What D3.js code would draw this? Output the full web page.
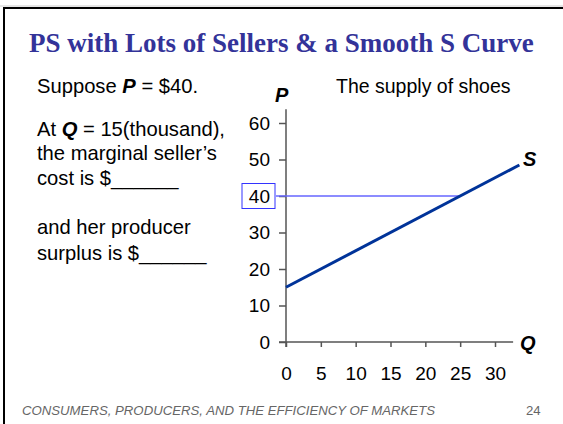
<!DOCTYPE html>
<html>
<head>
  <script src="https://cdn.jsdelivr.net/npm/d3@7"></script>
  <style>
    body { margin: 0; background: #fff; }
    svg { display: block; }
  </style>
</head>
<body>
<script>
  // data
  const qTicks = [0, 5, 10, 15, 20, 25, 30];
  const pTicks = [0, 10, 20, 30, 40, 50, 60];
  const supplyQ = [0, 33.5];
  const supplyP = [15, 48.5];
  const price = 40;
  const qAtPrice = 25;
  const qMax = 32.6;
  const pMax = 63.8;

  const w = 563, h = 424;
  const svg = d3.select("body").append("svg").attr("width", w).attr("height", h);

  // slide frame
  svg.append("line").attr("x1", 0).attr("x2", w).attr("y1", 6).attr("y2", 6)
    .attr("stroke", "#ccc").attr("stroke-width", 1);
  svg.append("path").attr("d", "M4,424 V8 H563")
    .attr("fill", "none").attr("stroke", "#000").attr("stroke-width", 2);

  svg.append("text").attr("x", 29).attr("y", 52)
    .attr("font-family", "Liberation Serif, Times New Roman, serif")
    .attr("font-weight", "bold").attr("font-size", "27px").attr("fill", "#333399")
    .text("PS with Lots of Sellers & a Smooth S Curve");

  // left text
  const txt = svg.append("g").attr("font-family", "Liberation Sans, Arial, sans-serif")
    .attr("font-size", "20.2px").attr("fill", "#000");
  function line(y, parts) {
    const t = txt.append("text").attr("x", 37).attr("y", y);
    parts.forEach(p => {
      const s = t.append("tspan").text(p[0]);
      if (p[1]) s.attr("font-weight", "bold").attr("font-style", "italic");
    });
  }
  line(93, [["Suppose "], ["P", 1], [" = $40."]]);
  line(136, [["At "], ["Q", 1], [" = 15(thousand),"]]);
  line(160, [["the marginal seller\u2019s"]]);
  line(185, [["cost is $______"]]);
  line(234, [["and her producer"]]);
  line(260, [["surplus is $______"]]);

  // chart
  const x = d3.scaleLinear().domain([0, 30]).range([286, 495]);
  const y = d3.scaleLinear().domain([0, 60]).range([342, 123]);

  const axisColor = "#555";
  const gx = svg.append("g").attr("transform", "translate(0," + y(0) + ")")
    .call(d3.axisBottom(x).tickValues(qTicks).tickSize(5).tickPadding(20).tickSizeOuter(0));
  gx.select(".domain").attr("d", "M" + (x(0) - 7) + ",0H" + x(qMax));
  const gy = svg.append("g").attr("transform", "translate(" + x(0) + ",0)")
    .call(d3.axisLeft(y).tickValues(pTicks).tickSize(7).tickPadding(9).tickSizeOuter(0));
  gy.select(".domain").attr("d", "M0," + y(pMax) + "V" + (y(0) + 5));

  [gx, gy].forEach(g => {
    g.selectAll(".domain, line").attr("stroke", axisColor).attr("stroke-width", 1.5);
    g.selectAll("text").attr("font-family", "Liberation Sans, Arial, sans-serif")
      .attr("font-size", "19px").attr("fill", "#000");
  });

  // price line and box
  svg.append("line").attr("x1", 276).attr("x2", x(qAtPrice))
    .attr("y1", y(price)).attr("y2", y(price))
    .attr("stroke", "#6666ff").attr("stroke-width", 1.3);
  svg.append("rect").attr("x", 242).attr("y", y(price) - 12.5).attr("width", 33).attr("height", 25)
    .attr("fill", "none").attr("stroke", "#3333ff").attr("stroke-width", 1);

  // supply curve
  const supply = supplyQ.map((q, i) => [q, supplyP[i]]);
  svg.append("path").datum(supply)
    .attr("d", d3.line().x(d => x(d[0])).y(d => y(d[1])))
    .attr("fill", "none").attr("stroke", "#003399").attr("stroke-width", 3);

  const lab = svg.append("g").attr("font-family", "Liberation Sans, Arial, sans-serif")
    .attr("font-weight", "bold").attr("font-style", "italic").attr("font-size", "20px");
  lab.append("text").attr("x", 275).attr("y", 102).text("P");
  lab.append("text").attr("x", 523).attr("y", 166).text("S");
  lab.append("text").attr("x", 520).attr("y", 350).text("Q");

  svg.append("text").attr("x", 336).attr("y", 93)
    .attr("font-family", "Liberation Sans, Arial, sans-serif").attr("font-size", "19.5px")
    .text("The supply of shoes");

  // footer
  const foot = svg.append("g").attr("font-family", "Liberation Sans, Arial, sans-serif")
    .attr("font-size", "13.2px").attr("fill", "#666");
  foot.append("text").attr("x", 22).attr("y", 415).attr("font-style", "italic")
    .text("CONSUMERS, PRODUCERS, AND THE EFFICIENCY OF MARKETS");
  foot.append("text").attr("x", 526).attr("y", 415).text("24");
</script>
</body>
</html>
